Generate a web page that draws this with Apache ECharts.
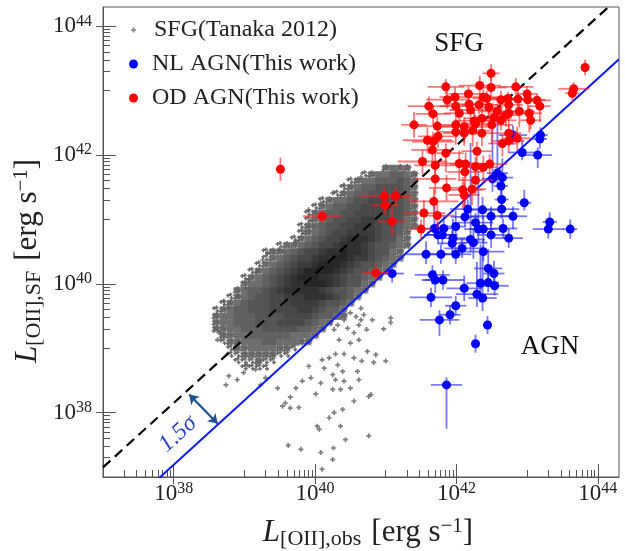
<!DOCTYPE html>
<html>
<head>
<meta charset="utf-8">
<script src="https://cdn.jsdelivr.net/npm/echarts@6.0.0/dist/echarts.min.js"></script>
<style>
html, body { margin: 0; padding: 0; background: #fff; }
#chart { width: 625px; height: 551px; }
</style>
</head>
<body>
<div id="chart"></div>
<script>
const FONT = "Liberation Serif"

// =====================
// Axis ticks (log10 L)
// =====================
const majorTicks = [38, 40, 42, 44]
const minorDecades = [37, 39, 41, 43]

// =====================
// Reference relations (log10 L)
// =====================
const relX = [37, 44.3]
const sfgRelY = [37.15, 44.45]   // dashed, SFG relation
const agnRelY = [36.19, 43.49]   // blue, 1.5 sigma below

const arrowFrom = [38.22, 38.28]
const arrowTo = [38.62, 37.83]

// =====================
// SFG density (Tanaka 2012), rows of 0.1 dex cells
// [log Ly row, log Lx of first cell, density per cell 1..9]
// =====================
const cloudRows = [
  [41.8, 41.0, "2322"],
  [41.7, 40.7, "12334432"],
  [41.6, 40.5, "1233444542"],
  [41.5, 40.4, "12344555542"],
  [41.4, 40.3, "123445555542"],
  [41.3, 40.1, "12334556665542"],
  [41.2, 40.0, "123445566665542"],
  [41.1, 39.9, "1234455666665542"],
  [41.0, 39.9, "1234556677665532"],
  [40.9, 39.8, "12345566777655432"],
  [40.8, 39.8, "1234566777765542"],
  [40.7, 39.7, "12345667888765532"],
  [40.6, 39.5, "1223456678887655432"],
  [40.5, 39.3, "12234566788988765532"],
  [40.4, 39.3, "12345667889987765432"],
  [40.3, 39.2, "12345677899987655432"],
  [40.2, 39.1, "12345678999987655432"],
  [40.1, 39.0, "12345678999887655432"],
  [40.0, 39.0, "2334567889998765532"],
  [39.9, 38.9, "2344567888887655432"],
  [39.8, 38.8, "1234556677788876542"],
  [39.7, 38.7, "1234555666777765542"],
  [39.6, 38.6, "1234455566667765442"],
  [39.5, 38.6, "2334445555666654432"],
  [39.4, 38.6, "23344455566665432"],
  [39.3, 38.6, "2233444555554432"],
  [39.2, 38.7, "22334444443332"],
  [39.1, 38.7, "1223334433322"],
  [39.0, 38.8, "1223333221"],
  [38.9, 38.8, "112222211"],
  [38.8, 38.9, "111211"],
  [38.7, 39.0, "1111"]
]

// single SFG points around the cloud [log Lx, log Ly]
const sfgSparse = [
  [40.65, 39.62], [40.69, 39.52], [40.81, 39.44], [41.07, 39.47], [41.07, 39.40],
  [40.97, 39.30], [40.73, 39.29], [40.62, 39.36], [40.55, 39.24], [40.46, 39.31],
  [40.27, 39.29], [40.34, 39.13], [40.50, 39.08], [40.62, 39.13], [40.74, 38.95],
  [40.86, 38.90], [41.00, 38.80], [40.83, 38.78], [40.66, 38.80], [40.55, 38.85],
  [40.41, 38.91], [40.29, 38.91], [40.20, 38.85], [40.10, 38.82], [40.13, 38.69],
  [40.32, 38.74], [40.39, 38.64], [40.25, 38.59], [40.29, 38.51], [40.41, 38.49],
  [40.60, 38.64], [40.62, 38.51], [40.50, 38.38], [40.36, 38.36], [40.25, 38.36],
  [40.08, 38.46], [40.01, 38.29], [39.94, 38.54], [39.91, 38.72], [40.76, 38.25],
  [40.55, 38.18], [40.39, 38.05], [40.27, 38.00], [40.20, 37.92], [40.36, 37.79],
  [40.06, 37.74], [40.43, 37.58], [40.76, 37.64], [40.26, 37.45], [40.08, 37.38],
  [39.80, 37.43], [40.25, 37.27], [40.10, 37.12], [39.62, 37.49], [40.50, 39.55],
  [40.58, 39.49], [40.65, 39.44], [40.41, 39.44], [40.32, 39.36], [40.79, 38.28],
  [40.03, 37.79], [38.74, 38.43], [38.78, 38.57], [38.90, 38.51], [38.99, 38.62],
  [39.04, 38.74], [39.16, 38.67], [39.23, 38.43], [39.30, 38.54], [39.47, 38.38],
  [39.54, 38.10], [39.65, 38.24], [39.65, 38.07], [39.77, 38.08], [39.73, 38.38],
  [39.82, 38.49], [39.58, 38.15], [38.62, 39.13], [38.64, 39.24], [38.71, 39.73],
  [38.78, 39.63], [38.92, 39.80], [39.02, 39.94], [39.06, 40.06], [39.18, 40.19],
  [39.26, 40.37], [39.33, 40.48], [39.49, 40.53], [39.56, 40.50], [39.73, 40.66],
  [39.84, 40.81], [39.94, 40.99], [39.98, 40.89], [40.65, 41.66], [40.41, 41.53],
  [40.25, 41.41], [40.08, 41.25], [39.91, 41.15]
]

// =====================
// AGN of this work
// [log Lobs, log LSF, x err, y err low, y err high] (dex)
// =====================
const nlAgn = [
  [41.09, 40.16, 0.17, 0.14, 0.14], [41.57, 40.46, 0.30, 0.15, 0.20], [41.78, 40.46, 0.20, 0.15, 0.15],
  [41.99, 40.46, 0.22, 0.15, 0.12], [41.74, 40.76, 0.20, 0.15, 0.15], [41.80, 40.76, 0.22, 0.15, 0.15],
  [41.69, 40.86, 0.20, 0.15, 0.50], [41.82, 40.86, 0.20, 0.15, 0.20], [41.99, 40.89, 0.15, 0.15, 0.25],
  [41.95, 40.71, 0.25, 0.15, 0.30], [41.94, 40.63, 0.20, 0.15, 0.20], [42.08, 40.55, 0.25, 0.15, 0.15],
  [41.66, 40.14, 0.25, 0.15, 0.15], [41.70, 40.06, 0.15, 0.20, 0.15], [41.81, 40.06, 0.30, 0.15, 0.15],
  [42.11, 39.93, 0.25, 0.20, 0.20], [41.64, 39.79, 0.30, 0.15, 0.15], [41.99, 39.66, 0.15, 0.15, 0.15],
  [41.91, 39.52, 0.15, 0.15, 0.15], [41.76, 39.44, 0.28, 0.25, 0.15], [41.86, 38.43, 0.22, 0.68, 0.12],
  [42.96, 41.26, 0.10, 0.12, 0.20], [42.64, 41.16, 0.25, 0.15, 0.15], [42.37, 41.15, 0.25, 0.15, 0.20],
  [42.16, 41.16, 0.25, 0.15, 0.15], [42.49, 41.05, 0.30, 0.15, 0.15], [42.80, 41.05, 0.20, 0.20, 0.15],
  [42.27, 40.95, 0.25, 0.15, 0.15], [42.31, 40.85, 0.20, 0.20, 0.90], [42.38, 40.85, 0.20, 0.20, 0.20],
  [42.66, 40.86, 0.20, 0.15, 0.15], [43.32, 40.96, 0.10, 0.15, 0.15], [43.30, 40.85, 0.22, 0.15, 0.15],
  [43.61, 40.85, 0.10, 0.15, 0.15], [42.49, 40.76, 0.20, 0.20, 0.40], [42.74, 40.71, 0.20, 0.15, 0.15],
  [42.20, 40.69, 0.20, 0.20, 1.50], [42.24, 40.64, 0.20, 0.25, 0.20], [42.38, 40.50, 0.30, 0.15, 0.20],
  [42.45, 40.24, 0.20, 0.20, 0.30], [42.53, 40.16, 0.15, 0.15, 0.20], [42.34, 40.01, 0.20, 0.30, 0.60],
  [42.45, 40.02, 0.15, 0.15, 0.20], [42.54, 39.97, 0.20, 0.15, 0.15], [42.29, 39.84, 0.30, 0.20, 0.50],
  [42.37, 39.78, 0.20, 0.20, 0.80], [42.44, 39.36, 0.05, 0.14, 0.14], [42.27, 39.07, 0.05, 0.14, 0.14],
  [43.19, 42.31, 0.10, 0.12, 0.12], [43.18, 42.25, 0.10, 0.15, 0.12], [42.93, 42.04, 0.20, 0.12, 0.20],
  [43.15, 42.00, 0.20, 0.20, 0.12], [42.80, 42.31, 0.20, 0.15, 0.15], [42.58, 41.72, 0.15, 0.20, 0.90],
  [42.65, 41.65, 0.15, 0.15, 0.30], [42.51, 41.63, 0.15, 0.20, 0.80], [42.63, 41.52, 0.10, 0.25, 0.20],
  [42.64, 41.31, 0.10, 0.15, 0.30], [42.12, 41.04, 0.20, 0.15, 0.40]
]

const odAgn = [
  [42.49, 43.27, 0.12, 0.12, 0.14], [41.85, 43.06, 0.26, 0.12, 0.12], [42.33, 43.08, 0.30, 0.15, 0.15],
  [42.49, 43.05, 0.22, 0.15, 0.15], [42.84, 43.06, 0.25, 0.12, 0.14], [43.82, 43.36, 0.05, 0.12, 0.12],
  [43.66, 43.03, 0.22, 0.10, 0.10], [43.64, 42.96, 0.10, 0.14, 0.10], [41.87, 42.86, 0.30, 0.14, 0.14],
  [41.98, 42.90, 0.22, 0.10, 0.15], [42.17, 42.95, 0.28, 0.10, 0.12], [42.38, 42.90, 0.25, 0.12, 0.12],
  [42.43, 42.88, 0.20, 0.15, 0.12], [42.63, 42.86, 0.30, 0.16, 0.14], [42.73, 42.88, 0.22, 0.14, 0.10],
  [42.87, 42.87, 0.28, 0.20, 0.14], [43.00, 42.95, 0.15, 0.12, 0.12], [43.01, 42.86, 0.25, 0.20, 0.10],
  [43.14, 42.85, 0.20, 0.14, 0.10], [43.18, 42.76, 0.15, 0.25, 0.10], [41.61, 42.76, 0.30, 0.15, 0.15],
  [41.67, 42.64, 0.25, 0.18, 0.12], [41.99, 42.76, 0.22, 0.14, 0.14], [42.18, 42.79, 0.35, 0.15, 0.14],
  [42.32, 42.78, 0.25, 0.14, 0.12], [42.46, 42.74, 0.20, 0.18, 0.14], [42.58, 42.68, 0.25, 0.20, 0.12],
  [42.74, 42.78, 0.20, 0.14, 0.12], [42.74, 42.65, 0.30, 0.22, 0.12], [42.89, 42.68, 0.22, 0.25, 0.12],
  [43.03, 42.65, 0.18, 0.30, 0.12], [42.20, 42.70, 0.30, 0.16, 0.12], [41.40, 42.47, 0.18, 0.20, 0.20],
  [41.73, 42.45, 0.40, 0.20, 0.15], [41.99, 42.47, 0.25, 0.18, 0.14], [42.11, 42.44, 0.35, 0.25, 0.15],
  [42.25, 42.53, 0.25, 0.20, 0.14], [42.36, 42.57, 0.25, 0.15, 0.15], [42.50, 42.47, 0.30, 0.30, 0.14],
  [42.63, 42.54, 0.22, 0.16, 0.12], [42.70, 42.62, 0.20, 0.18, 0.12], [42.53, 42.58, 0.25, 0.14, 0.14],
  [43.05, 42.54, 0.15, 0.14, 0.10], [42.27, 42.49, 0.20, 0.16, 0.14], [41.59, 42.23, 0.35, 0.20, 0.20],
  [41.67, 42.21, 0.30, 0.15, 0.15], [41.74, 42.29, 0.28, 0.18, 0.14], [41.99, 42.36, 0.25, 0.20, 0.15],
  [42.11, 42.34, 0.30, 0.20, 0.12], [42.23, 42.38, 0.25, 0.25, 0.14], [42.36, 42.34, 0.20, 0.20, 0.14],
  [42.65, 42.18, 0.20, 0.20, 0.14], [42.74, 42.22, 0.22, 0.18, 0.12], [42.74, 42.34, 0.18, 0.15, 0.12],
  [42.86, 42.26, 0.20, 0.20, 0.18], [41.66, 42.08, 0.30, 0.22, 0.20], [41.85, 42.03, 0.25, 0.30, 0.15],
  [42.29, 42.06, 0.22, 0.25, 0.15], [41.52, 41.90, 0.35, 0.20, 0.18], [41.70, 41.84, 0.30, 0.20, 0.18],
  [42.04, 41.87, 0.30, 0.25, 0.20], [42.13, 41.86, 0.22, 0.22, 0.18], [42.12, 41.74, 0.25, 0.30, 0.15],
  [42.27, 41.82, 0.25, 0.20, 0.15], [42.38, 41.81, 0.20, 0.20, 0.18], [42.47, 41.86, 0.25, 0.18, 0.15],
  [41.70, 41.63, 0.30, 0.25, 0.20], [41.86, 41.49, 0.25, 0.20, 0.20], [42.27, 41.61, 0.25, 0.22, 0.20],
  [42.22, 41.47, 0.20, 0.25, 0.20], [42.09, 41.46, 0.28, 0.30, 0.20], [42.11, 41.38, 0.22, 0.20, 0.20],
  [41.68, 41.28, 0.35, 0.25, 0.20], [40.98, 41.36, 0.35, 0.15, 0.15], [41.14, 41.36, 0.25, 0.15, 0.15],
  [40.99, 41.22, 0.20, 0.15, 0.12], [40.10, 41.05, 0.27, 0.10, 0.10], [41.54, 41.10, 0.30, 0.22, 0.20],
  [41.73, 41.06, 0.25, 0.20, 0.18], [41.09, 40.97, 0.20, 0.22, 0.20], [41.50, 40.85, 0.15, 0.18, 0.15],
  [40.86, 40.17, 0.19, 0.13, 0.13], [39.51, 41.78, 0.05, 0.18, 0.18], [42.04, 42.65, 0.22, 0.15, 0.12]
]

// grey shade per density level
const SHADES = ["", "#a3a3a3", "#858585", "#6e6e6e", "#606060", "#545454", "#484848", "#3c3c3c", "#313131", "#262626"]
const PLUS = "path://M1,0H2V1H3V2H2V3H1V2H0V1H1Z"
// dither spots inside a sparse cell (fractions of the cell)
const SPOTS = [[0.2, 0.3], [0.7, 0.7], [0.55, 0.15], [0.15, 0.8], [0.85, 0.35], [0.45, 0.55]]

// =====================
// Build cells from rows
// =====================
const cloudCells = []
cloudRows.forEach(([ly, x0, levels]) => {
  levels.split("").forEach((c, i) => {
    cloudCells.push([+(x0 + i * 0.1).toFixed(2), ly, +c])
  })
})

const minorTicks = []
minorDecades.forEach(d => {
  for (let k = 1; k <= 9; k++) minorTicks.push(d + Math.log10(k))
})

// =====================
// Render helpers
// =====================
function plusMark(cx, cy) {
  return [
    { type: "rect", shape: { x: cx - 2, y: cy - 0.7, width: 4, height: 1.4 }, style: { fill: "#666" } },
    { type: "rect", shape: { x: cx - 0.7, y: cy - 2, width: 1.4, height: 4 }, style: { fill: "#666" } }
  ]
}

function renderCell(params, api) {
  const x = api.value(0), y = api.value(1), lvl = api.value(2)
  const p1 = api.coord([x - 0.05, y + 0.05])
  const p2 = api.coord([x + 0.05, y - 0.05])
  const w = p2[0] - p1[0], h = p2[1] - p1[1]

  if (lvl <= 2) {
    // sparse edge: a few single points
    const children = []
    if (lvl === 2) {
      children.push({ type: "rect", shape: { x: p1[0], y: p1[1], width: w + 0.6, height: h + 0.6 }, style: { fill: "#c6c6c6" } })
    }
    const n = lvl === 1 ? 3 : 6
    for (let i = 0; i < n; i++) {
      children.push(...plusMark(p1[0] + SPOTS[i][0] * w, p1[1] + SPOTS[i][1] * h))
    }
    return { type: "group", children: children }
  }

  return {
    type: "rect",
    shape: { x: p1[0], y: p1[1], width: w + 0.6, height: h + 0.6 },
    style: { fill: SHADES[lvl] }
  }
}

function errRenderer(color) {
  return (params, api) => {
    const x = api.value(0), y = api.value(1)
    const l = api.coord([x - api.value(2), y])
    const r = api.coord([x + api.value(2), y])
    const b = api.coord([x, y - api.value(3)])
    const t = api.coord([x, y + api.value(4)])
    const st = { stroke: color, lineWidth: 1.8 }
    return {
      type: "group",
      children: [
        { type: "line", shape: { x1: l[0], y1: l[1], x2: r[0], y2: r[1] }, style: st },
        { type: "line", shape: { x1: t[0], y1: t[1], x2: b[0], y2: b[1] }, style: st }
      ]
    }
  }
}

const tickRich = {
  b: { fontFamily: FONT, fontSize: 23, lineHeight: 26, color: "#222" },
  s: { fontFamily: FONT, fontSize: 16, lineHeight: 12, verticalAlign: "top", color: "#222" }
}
const tickFmt = v => `{b|10}{s|${v}}`
const AX = { color: "#555", width: 1 }

function axisSet(dim) {
  const base = { type: "value", min: 37, max: 44.3, splitLine: { show: false } }
  const pos = dim === "x" ? "bottom" : "left"
  return [
    Object.assign({}, base, {
      position: pos,
      axisLine: { show: true, lineStyle: AX },
      axisTick: { show: true, inside: false, length: 7, customValues: majorTicks, lineStyle: AX },
      axisLabel: {
        customValues: majorTicks, formatter: tickFmt, rich: tickRich,
        margin: dim === "x" ? 4 : 11
      }
    }),
    Object.assign({}, base, {
      position: pos,
      axisLine: { show: false },
      axisTick: { show: true, inside: true, length: 13, customValues: majorTicks, lineStyle: AX },
      axisLabel: { show: false }
    }),
    Object.assign({}, base, {
      position: pos,
      axisLine: { show: false },
      axisTick: { show: true, inside: true, length: 7, customValues: minorTicks, lineStyle: AX },
      axisLabel: { show: false }
    })
  ]
}

function legendFor(name, icon, color, size, top, left) {
  return {
    left: left, top: top, padding: 0, orient: "vertical",
    selectedMode: false,
    itemWidth: size, itemHeight: size,
    data: [{ name: name, icon: icon, itemStyle: { color: color } }],
    textStyle: {
      fontFamily: FONT, fontSize: 24, lineHeight: 24, color: "#222",
      padding: [0, 0, 0, 18 - size]
    }
  }
}

const titleRich = {
  L: { fontFamily: FONT, fontStyle: "italic", fontSize: 31, lineHeight: 34, fill: "#222" },
  sub: { fontFamily: FONT, fontSize: 22, lineHeight: 19, verticalAlign: "bottom", fill: "#222" },
  n: { fontFamily: FONT, fontSize: 31, lineHeight: 34, fill: "#222" },
  sup: { fontFamily: FONT, fontSize: 21, lineHeight: 15, verticalAlign: "top", fill: "#222" }
}

// =====================
// Chart
// =====================
const chart = echarts.init(document.getElementById("chart"))

chart.setOption({
  animation: false,
  backgroundColor: "#fff",
  grid: {
    left: 103, right: 6, top: 7, bottom: 74,
    show: true, borderColor: "#555", borderWidth: 1,
    containLabel: false, outerBoundsMode: "none"
  },
  xAxis: axisSet("x"),
  yAxis: axisSet("y"),
  legend: [
    legendFor("SFG(Tanaka 2012)", PLUS, "#666", 5, 18, 131),
    legendFor("NL AGN(This work)", "circle", "#0000ff", 9, 52, 129),
    legendFor("OD AGN(This work)", "circle", "#ff0000", 9, 86, 129)
  ],
  series: [
    {
      name: "cloud", type: "custom", silent: true, clip: true,
      renderItem: renderCell, data: cloudCells, z: 1
    },
    {
      name: "SFG(Tanaka 2012)", type: "scatter", symbol: PLUS, symbolSize: 5,
      itemStyle: { color: "#5c5c5c" }, data: sfgSparse, z: 2
    },
    {
      name: "sfgRel", type: "line", symbol: "none", z: 3, clip: true,
      lineStyle: { color: "#000", width: 2.2, type: [10, 6] },
      data: relX.map((x, i) => [x, sfgRelY[i]])
    },
    {
      name: "agnRel", type: "line", symbol: "none", z: 3, clip: true,
      lineStyle: { color: "#0a1aff", width: 2 },
      data: relX.map((x, i) => [x, agnRelY[i]])
    },
    {
      name: "arrow", type: "lines", coordinateSystem: "cartesian2d", z: 3,
      symbol: ["arrow", "arrow"], symbolSize: 9,
      lineStyle: { color: "#1d4f91", width: 2.2, opacity: 1 },
      data: [{ coords: [arrowFrom, arrowTo] }]
    },
    {
      name: "nlErr", type: "custom", clip: true, z: 4,
      renderItem: errRenderer("rgba(30,30,255,0.6)"), data: nlAgn
    },
    {
      name: "NL AGN(This work)", type: "scatter", symbol: "circle", symbolSize: 9, z: 5,
      itemStyle: { color: "#0000ff", opacity: 1 }, data: nlAgn.map(d => [d[0], d[1]])
    },
    {
      name: "odErr", type: "custom", clip: true, z: 6,
      renderItem: errRenderer("rgba(255,30,30,0.6)"), data: odAgn
    },
    {
      name: "OD AGN(This work)", type: "scatter", symbol: "circle", symbolSize: 9, z: 7,
      itemStyle: { color: "#ff0000", opacity: 1 }, data: odAgn.map(d => [d[0], d[1]])
    }
  ],
  graphic: [
    {
      type: "text", x: 368, y: 533, z: 10,
      style: {
        text: "{L|L}{sub|[OII],obs}   {n|[erg s}{sup|−1}{n|]}",
        rich: titleRich, align: "center", verticalAlign: "middle"
      }
    },
    {
      type: "text", x: 28, y: 261, rotation: Math.PI / 2, z: 10,
      style: {
        text: "{L|L}{sub|[OII],SF}   {n|[erg s}{sup|−1}{n|]}",
        rich: titleRich, align: "center", verticalAlign: "middle"
      }
    },
    {
      type: "text", x: 459, y: 44, z: 10,
      style: { text: "SFG", fontFamily: FONT, fontSize: 27, fill: "#111", align: "center", verticalAlign: "middle" }
    },
    {
      type: "text", x: 550, y: 347, z: 10,
      style: { text: "AGN", fontFamily: FONT, fontSize: 27, fill: "#111", align: "center", verticalAlign: "middle" }
    },
    {
      type: "text", x: 178, y: 434, rotation: 0.74, z: 10,
      style: {
        text: "1.5σ", fontFamily: FONT, fontStyle: "italic", fontSize: 24,
        fill: "#2a48c9", align: "center", verticalAlign: "middle"
      }
    }
  ]
})
</script>
</body>
</html>
